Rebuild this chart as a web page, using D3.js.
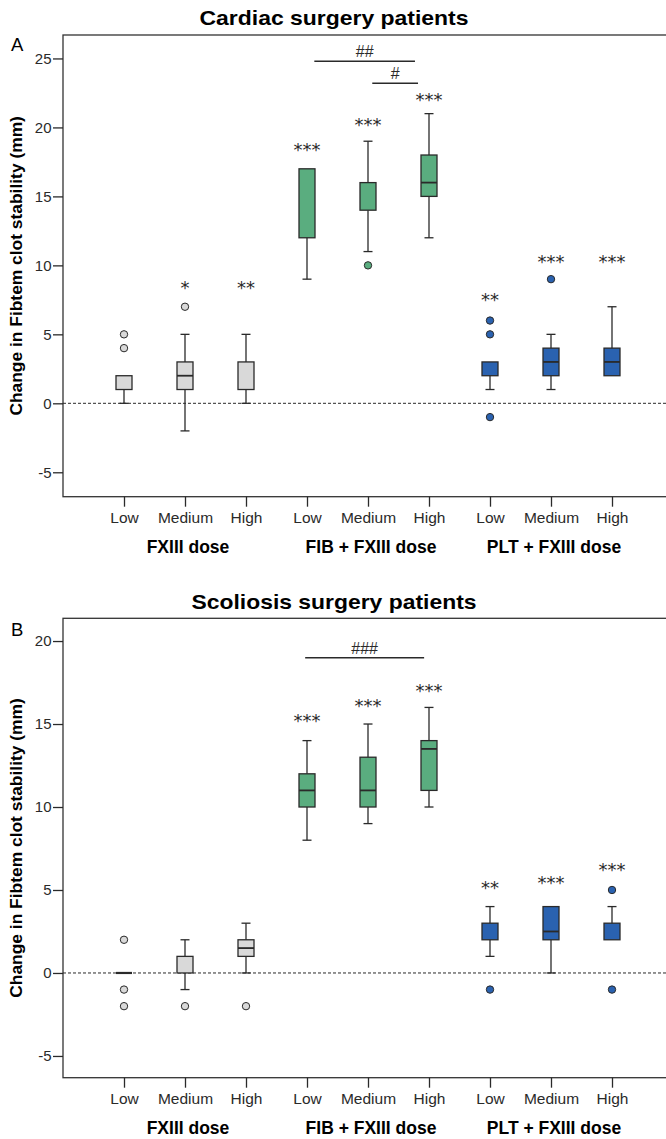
<!DOCTYPE html>
<html>
<head>
<meta charset="utf-8">
<script src="https://cdn.jsdelivr.net/npm/d3@7"></script>
<style>
  body { margin: 0; background: #fff; }
  svg { display: block; }
</style>
</head>
<body>
<div id="chart"></div>
<script>
// categories on the x axis (3 doses x 3 treatments)
const categories = ["FXIII-Low", "FXIII-Medium", "FXIII-High",
                    "FIB-Low", "FIB-Medium", "FIB-High",
                    "PLT-Low", "PLT-Medium", "PLT-High"];
const doseLabels = ["Low", "Medium", "High", "Low", "Medium", "High", "Low", "Medium", "High"];
const groupLabels = ["FXIII dose", "FIB + FXIII dose", "PLT + FXIII dose"];

// panel A - cardiac: [min, q1, median, q3, max]
const cardiacBoxes = [
  [0, 1, 1, 2, 2],
  [-2, 1, 2, 3, 5],
  [0, 1, 1, 3, 5],
  [9, 12, 17, 17, 17],
  [11, 14, 16, 16, 19],
  [12, 15, 16, 18, 21],
  [1, 2, 2, 3, 3],
  [1, 2, 3, 4, 5],
  [2, 2, 3, 4, 7]
];
const cardiacOutliers = [[4, 5], [7], [], [], [10], [], [5, 6, -1], [9], []];
const cardiacStars = ["", "*", "**", "***", "***", "***", "**", "***", "***"];
const cardiacStarAt = [null, 8.6, 8.6, 18.6, 20.4, 22.2, 7.7, 10.5, 10.5];
const cardiacBrackets = [
  { label: "##", from: 3.12, to: 4.77, at: 24.8 },
  { label: "#", from: 4.07, to: 4.82, at: 23.2 }
];
const cardiacTicks = [-5, 0, 5, 10, 15, 20, 25];

// panel B - scoliosis
const scoliosisBoxes = [
  [0, 0, 0, 0, 0],
  [-1, 0, 0, 1, 2],
  [0, 1, 1.5, 2, 3],
  [8, 10, 11, 12, 14],
  [9, 10, 11, 13, 15],
  [10, 11, 13.5, 14, 16],
  [1, 2, 2, 3, 4],
  [0, 2, 2.5, 4, 4],
  [2, 2, 2, 3, 4]
];
const scoliosisOutliers = [[2, -1, -2], [-2], [-2], [], [], [], [-1], [], [5, -1]];
const scoliosisStars = ["", "", "", "***", "***", "***", "**", "***", "***"];
const scoliosisStarAt = [null, null, null, 15.4, 16.3, 17.2, 5.3, 5.6, 6.4];
const scoliosisBrackets = [
  { label: "###", from: 2.97, to: 4.92, at: 19.0 }
];
const scoliosisTicks = [-5, 0, 5, 10, 15, 20];

const width = 666, height = 1139;
const fills = ["#d9d9d9", "#5aad7f", "#2a62b0"];
const ink = "#2a2a2a";
const FONT = "'Liberation Sans', Arial, Helvetica, sans-serif";

const svg = d3.select("#chart").append("svg")
  .attr("width", width)
  .attr("height", height);

const left = 63;
const x = d3.scalePoint().domain(categories).range([left, 673]).padding(1);
const xi = d3.scaleLinear().domain([0, 8]).range([x(categories[0]), x(categories[8])]);
const boxW = 16, capW = 9;

function drawPanel(p) {
  const y = d3.scaleLinear().domain(p.domain).range([p.bottom, p.top]);
  const g = svg.append("g");

  // title
  g.append("text")
    .attr("x", 334).attr("y", p.titleY)
    .attr("text-anchor", "middle")
    .attr("font-family", FONT).attr("font-weight", "bold").attr("font-size", 21)
    .attr("textLength", p.titleLen).attr("lengthAdjust", "spacingAndGlyphs")
    .text(p.title);

  g.append("text")
    .attr("x", 11).attr("y", p.letterY)
    .attr("font-family", FONT).attr("font-size", 18.5)
    .text(p.letter);

  // frame
  g.append("rect")
    .attr("x", left).attr("y", p.top)
    .attr("width", 673 - left).attr("height", p.bottom - p.top)
    .attr("fill", "none").attr("stroke", "#333").attr("stroke-width", 1.3);

  // zero reference line
  g.append("line")
    .attr("x1", left).attr("x2", width)
    .attr("y1", y(0)).attr("y2", y(0))
    .attr("stroke", ink).attr("stroke-dasharray", "3,2").attr("stroke-width", 1);

  // axes
  const ya = g.append("g")
    .attr("transform", `translate(${left},0)`)
    .call(d3.axisLeft(y).tickValues(p.ticks).tickSize(10).tickPadding(1.5).tickSizeOuter(0)
      .tickFormat(d => String(d)));
  ya.select(".domain").remove();
  ya.attr("font-family", FONT).attr("font-size", 15).attr("color", ink);
  ya.selectAll("line").attr("stroke-width", 1.3);

  const xa = g.append("g")
    .attr("transform", `translate(0,${p.bottom})`)
    .call(d3.axisBottom(x).tickSize(10).tickPadding(5).tickSizeOuter(0)
      .tickFormat((d, i) => doseLabels[i]));
  xa.select(".domain").remove();
  xa.attr("font-family", FONT).attr("font-size", 15.5).attr("color", ink);
  xa.selectAll("line").attr("stroke-width", 1.3);

  g.selectAll(".group-label")
    .data(groupLabels)
    .join("text")
    .attr("class", "group-label")
    .attr("x", (d, i) => x(categories[i * 3 + 1]) + 3)
    .attr("y", p.bottom + 56.5)
    .attr("text-anchor", "middle")
    .attr("font-family", FONT).attr("font-weight", "bold").attr("font-size", 17.5)
    .text(d => d);

  // y label
  g.append("text")
    .attr("transform", `translate(22,${(p.top + p.bottom) / 2}) rotate(-90)`)
    .attr("text-anchor", "middle")
    .attr("font-family", FONT).attr("font-weight", "bold").attr("font-size", 17.4)
    .text("Change in Fibtem clot stability (mm)");

  // boxes
  const boxes = g.selectAll(".box")
    .data(p.boxes)
    .join("g")
    .attr("class", "box")
    .attr("transform", (d, i) => `translate(${x(categories[i])},0)`);

  boxes.each(function (d, i) {
    const b = d3.select(this);
    const [mn, q1, med, q3, mx] = d;
    const col = fills[Math.floor(i / 3)];
    if (mx > q3) {
      b.append("line").attr("x1", 0).attr("x2", 0).attr("y1", y(q3)).attr("y2", y(mx))
        .attr("stroke", ink).attr("stroke-width", 1.3);
      b.append("line").attr("x1", -capW / 2).attr("x2", capW / 2).attr("y1", y(mx)).attr("y2", y(mx))
        .attr("stroke", ink).attr("stroke-width", 1.3);
    }
    if (mn < q1) {
      b.append("line").attr("x1", 0).attr("x2", 0).attr("y1", y(q1)).attr("y2", y(mn))
        .attr("stroke", ink).attr("stroke-width", 1.3);
      b.append("line").attr("x1", -capW / 2).attr("x2", capW / 2).attr("y1", y(mn)).attr("y2", y(mn))
        .attr("stroke", ink).attr("stroke-width", 1.3);
    }
    b.append("rect")
      .attr("x", -boxW / 2).attr("width", boxW)
      .attr("y", y(q3)).attr("height", y(q1) - y(q3))
      .attr("fill", col).attr("stroke", ink).attr("stroke-width", 1.3);
    // median on a box edge is hidden by the edge itself
    if ((med > q1 && med < q3) || q1 === q3) {
      b.append("line")
        .attr("x1", -boxW / 2).attr("x2", boxW / 2)
        .attr("y1", y(med)).attr("y2", y(med))
        .attr("stroke", ink).attr("stroke-width", q1 === q3 ? 2.2 : 1.8);
    }

    b.selectAll("circle")
      .data(p.outliers[i])
      .join("circle")
      .attr("cx", 0).attr("cy", v => y(v)).attr("r", 3.7)
      .attr("fill", col).attr("stroke", ink).attr("stroke-width", 1);

    if (p.stars[i]) {
      b.append("text")
        .attr("x", 0).attr("y", y(p.starAt[i]) + 9.4)
        .attr("text-anchor", "middle")
        .attr("font-family", "'DejaVu Sans', sans-serif").attr("font-size", 18)
        .attr("fill", ink)
        .text(p.stars[i]);
    }
  });

  // significance brackets between doses
  p.brackets.forEach(br => {
    g.append("line")
      .attr("x1", xi(br.from)).attr("x2", xi(br.to))
      .attr("y1", y(br.at)).attr("y2", y(br.at))
      .attr("stroke", ink).attr("stroke-width", 1.5);
    g.append("text")
      .attr("x", (xi(br.from) + xi(br.to)) / 2)
      .attr("y", y(br.at) - 4)
      .attr("text-anchor", "middle")
      .attr("font-family", FONT).attr("font-size", 16)
      .attr("fill", ink)
      .text(br.label);
  });
}

drawPanel({
  title: "Cardiac surgery patients", titleY: 25, titleLen: 269,
  letter: "A", letterY: 51,
  top: 35, bottom: 496.7, domain: [-6.77, 26.7], ticks: cardiacTicks,
  boxes: cardiacBoxes, outliers: cardiacOutliers,
  stars: cardiacStars, starAt: cardiacStarAt, brackets: cardiacBrackets
});

drawPanel({
  title: "Scoliosis surgery patients", titleY: 608.5, titleLen: 285,
  letter: "B", letterY: 636,
  top: 618.3, bottom: 1077.7, domain: [-6.31, 21.37], ticks: scoliosisTicks,
  boxes: scoliosisBoxes, outliers: scoliosisOutliers,
  stars: scoliosisStars, starAt: scoliosisStarAt, brackets: scoliosisBrackets
});
</script>
</body>
</html>
